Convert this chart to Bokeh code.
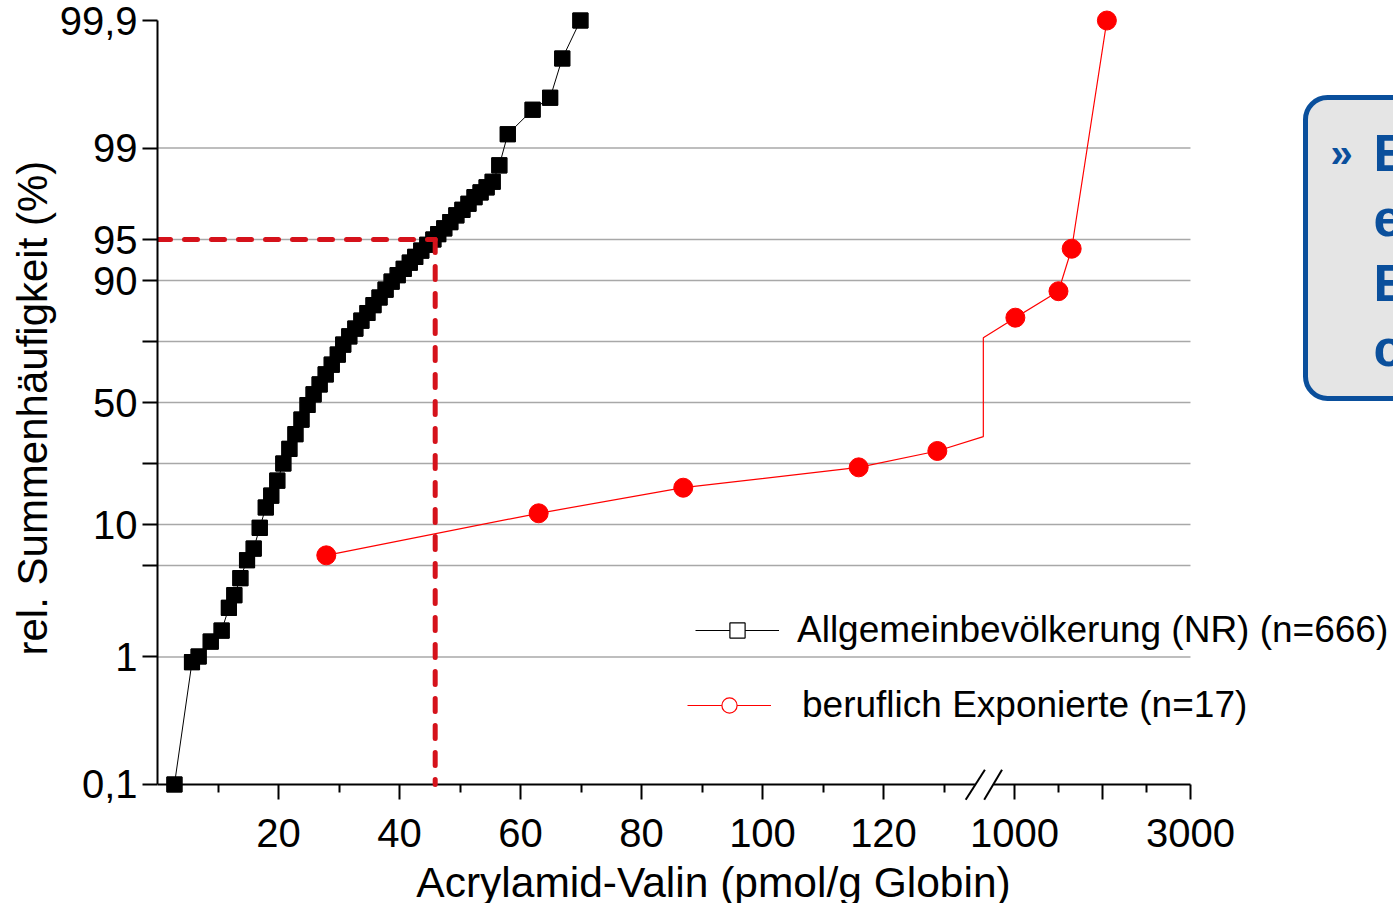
import numpy as np
from statistics import NormalDist
from bokeh.plotting import figure
from bokeh.models import (Range1d, FixedTicker, LinearAxis, Legend, LegendItem,
                          Label, BoxAnnotation, Title)
from bokeh.core.properties import value
from bokeh.embed import file_html
from bokeh.resources import INLINE

# ---------------- data ----------------
# Allgemeinbevölkerung (NR), n=666: Acrylamid-Valin (pmol/g Globin) -> rel. Summenhäufigkeit (%)
NR_X = [2.8, 5.7, 6.8, 8.8, 10.6, 11.8, 12.7, 13.7, 14.8, 15.9, 16.9, 17.9, 18.8, 19.8,
        20.8, 21.8, 22.8, 23.8, 24.8, 25.8, 26.8, 27.8, 28.8, 29.8, 30.7, 31.7, 32.7,
        33.7, 34.7, 35.7, 36.7, 37.7, 38.7,
        39.7, 40.7, 41.7, 42.6, 43.6, 44.6, 45.6, 46.4, 47.4, 48.4, 49.4, 50.4, 51.4,
        52.4, 53.4, 54.4, 55.4,
        56.5, 57.9, 62.0, 64.9, 66.9, 69.9]
NR_Y = [0.1, 0.92, 1.01, 1.35, 1.66, 2.5, 3.1, 4.1, 5.5, 6.75, 9.5, 13.3, 16.0, 19.9,
        25.0, 30.4, 36.3, 42.5, 48.9, 53.6, 57.9, 62.2, 66.2, 70.2, 73.9, 76.6, 78.9,
        81.1, 83.1, 85.0, 86.7, 88.3, 89.8,
        90.8, 91.7, 92.5, 93.2, 93.9, 94.5, 95.0, 95.4, 95.8, 96.2, 96.6, 96.9, 97.2,
        97.5, 97.7, 97.9, 98.1,
        98.6, 99.2, 99.47, 99.57, 99.79, 99.9]

# beruflich Exponierte, n=17
EXP_X_LOW = [27.9, 63.0, 86.9, 115.9, 128.9]      # left of the axis break
EXP_Y_LOW = [6.0, 12.1, 18.0, 23.8, 29.6]
EXP_X_HIGH = [1010, 1500, 1650, 2050]             # right of the axis break
EXP_Y_HIGH = [81.9, 88.0, 94.1, 99.9]
EXP_BREAK_Y = [35.3, 76.2]                        # connector drawn across the break

P95 = 45.9          # 95. Perzentil der Allgemeinbevölkerung

Y_TICKS = [0.1, 1, 5, 10, 25, 50, 75, 90, 95, 99, 99.9]
Y_LABELS = ["0,1", "1", "", "10", "", "50", "", "90", "95", "99", "99,9"]
Y_GRID = [1, 5, 10, 25, 50, 75, 90, 95, 99]

X_TICKS_LOW = [20, 40, 60, 80, 100, 120]
X_MINOR_LOW = [10, 30, 50, 70, 90, 110, 130]
X_TICKS_HIGH = [1000, 2000, 3000]
X_LABELS_HIGH = ["1000", "", "3000"]
X_MINOR_HIGH = [1500, 2500]

LEGEND_NR = "Allgemeinbevölkerung (NR) (n=666)"
LEGEND_EXP = "beruflich Exponierte (n=17)"
X_TITLE = "Acrylamid-Valin (pmol/g Globin)"
Y_TITLE = "rel. Summenhäufigkeit (%)"
NOTE_MARK = "»"
NOTE_LINES = ["E", "e", "E", "c"]

# ---------------- scales (warped probability axis, broken x axis) ----------------
FONT = "Liberation Sans"
BLUE = "#0a4f9c"
DASH_RED = "#d5121b"
_nd = NormalDist()
# positions of the probability ticks on the (hand-drawn) probability net
Y_TICK_POS = [-3.131, -2.086, -1.336, -1.0, -0.5, 0.0, 0.5, 1.0, 1.336, 2.086, 3.131]
_Z_TICKS = [_nd.inv_cdf(t / 100.0) for t in Y_TICKS]


def ypos(p):
    z = _nd.inv_cdf(p / 100.0)
    return float(np.interp(z, _Z_TICKS, Y_TICK_POS))


HIGH_START = 141.65       # axis position of 1000 after the break
HIGH_SPAN = 29.09         # axis length of 2000 pmol/g after the break
BREAK_POS = 136.5         # position of the axis break


def xpos(v):
    if v < 500:
        return float(v)
    return HIGH_START + (v - 1000) * HIGH_SPAN / 2000.0


def px_y(py):             # canvas pixel row -> y axis units (layout helper)
    return (402 - py) / 122.0


def px_x(px):             # canvas pixel column -> x axis units (layout helper)
    return (px - 157) / 6.05


p = figure(width=1393, height=903, output_backend="svg", toolbar_location=None,
           x_range=Range1d(0, px_x(1393)), y_range=Range1d(px_y(903), px_y(0)),
           min_border_left=157, min_border_right=0, min_border_top=0, min_border_bottom=0,
           x_axis_type=None, y_axis_type=None, outline_line_color=None,
           background_fill_color="white", border_fill_color="white")
p.xgrid.visible = False
p.ygrid.visible = False

# call-out box at the right edge (behind its text)
p.add_layout(BoxAnnotation(left=px_x(1305), right=px_x(1440),
                           top=px_y(97), bottom=px_y(398),
                           fill_color="#e5e5e5", fill_alpha=1, line_color=BLUE,
                           line_alpha=1, line_width=5, border_radius=22, level="underlay"))

# grid lines
gy = [ypos(t) for t in Y_GRID]
p.segment(x0=[0] * len(gy), x1=[xpos(3000)] * len(gy), y0=gy, y1=gy,
          line_color="#a8a8a8", line_width=1.4)

# y axis
ytick_pos = [ypos(t) for t in Y_TICKS]
yaxis = LinearAxis(ticker=FixedTicker(ticks=ytick_pos, minor_ticks=[]),
                   major_label_overrides={k: v for k, v in zip(ytick_pos, Y_LABELS)},
                   bounds=(ypos(0.1), ypos(99.9)),
                   major_label_text_font=FONT, major_label_text_font_size="40px",
                   major_label_text_color="black",
                   major_label_standoff=5, major_tick_out=15, major_tick_in=0,
                   minor_tick_out=0, minor_tick_in=0,
                   axis_line_width=2, major_tick_line_width=2)
p.add_layout(yaxis, "left")
p.add_layout(Title(text=Y_TITLE, align="left", offset=903 - 655, standoff=2,
                   text_font=FONT, text_font_size="42px", text_font_style="normal",
                   text_color="black"), "left")

# x axis (broken), drawn at the 0,1 % level
y0 = ypos(0.1)
xmaj = [xpos(v) for v in X_TICKS_LOW + X_TICKS_HIGH]
xmin = [xpos(v) for v in X_MINOR_LOW + X_MINOR_HIGH]
xlabels = [str(v) for v in X_TICKS_LOW] + X_LABELS_HIGH
xaxis = LinearAxis(ticker=FixedTicker(ticks=xmaj, minor_ticks=xmin),
                   major_label_overrides={k: v for k, v in zip(xmaj, xlabels)},
                   fixed_location=y0, axis_line_color=None,
                   major_label_text_font=FONT, major_label_text_font_size="40px",
                   major_label_text_color="black",
                   major_label_standoff=20, major_tick_out=15, major_tick_in=0,
                   minor_tick_out=8, minor_tick_in=0,
                   major_tick_line_width=2, minor_tick_line_width=2)
p.add_layout(xaxis, "below")

p.segment(x0=[0, px_x(993)], x1=[px_x(974.4), xpos(3000)], y0=[y0, y0], y1=[y0, y0],
          line_color="black", line_width=2)
p.segment(x0=[px_x(965.2), px_x(983.7)], x1=[px_x(984.4), px_x(1001.5)],
          y0=[px_y(799.3)] * 2, y1=[px_y(769.3)] * 2,
          line_color="black", line_width=2)

p.add_layout(Label(x=px_x(713), y=px_y(858), text=X_TITLE,
                   text_align="center", text_baseline="top",
                   text_font=FONT, text_font_size="42.5px", text_color="black"))

# Allgemeinbevölkerung
nx = [xpos(v) for v in NR_X]
ny = [ypos(v) for v in NR_Y]
nr_line = p.line(nx, ny, line_color="black", line_width=1)
nr_key = p.scatter(nx, ny, marker="square", size=15, fill_color="white",
                   line_color="black", line_width=1.2)
p.scatter(nx, ny, marker="square", size=15, fill_color="black", line_color="black")

# beruflich Exponierte
ex = [xpos(v) for v in EXP_X_LOW] + [BREAK_POS, BREAK_POS] + [xpos(v) for v in EXP_X_HIGH]
ey = [ypos(v) for v in EXP_Y_LOW + EXP_BREAK_Y + EXP_Y_HIGH]
exp_line = p.line(ex, ey, line_color="#ff0000", line_width=1.2)
mx = [xpos(v) for v in EXP_X_LOW + EXP_X_HIGH]
my = [ypos(v) for v in EXP_Y_LOW + EXP_Y_HIGH]
exp_key = p.scatter(mx, my, marker="circle", size=14, fill_color="white",
                    line_color="#ff0000", line_width=1.2)
p.scatter(mx, my, marker="circle", size=19, fill_color="#ff0000", line_color="#ff0000")

# 95th percentile guide lines
y95 = ypos(95)
p.line([0, P95], [y95, y95], line_color=DASH_RED, line_width=5, line_dash="13 14",
       line_cap="round")
p.line([P95, P95], [y95, y0], line_color=DASH_RED, line_width=5, line_dash="13 14",
       line_cap="round")

# legend (two entries, slightly offset as on the slide)
legend_style = dict(orientation="vertical", glyph_width=84, glyph_height=38,
                    label_height=38, padding=0, margin=0, border_line_color=None,
                    background_fill_alpha=0, label_text_color="black",
                    label_text_font=FONT, label_text_font_size="37px")
p.add_layout(Legend(items=[LegendItem(label=LEGEND_NR, renderers=[nr_line, nr_key])],
                    location=(538, 252), label_standoff=18, **legend_style))
p.add_layout(Legend(items=[LegendItem(label=LEGEND_EXP, renderers=[exp_line, exp_key])],
                    location=(530, 177), label_standoff=31, **legend_style))

# call-out text (cut by the right edge, as in the source slide)
p.text(x=[px_x(1330)], y=[px_y(152)], text=[NOTE_MARK], text_font=value(FONT),
       text_font_size="40px", text_font_style="bold", text_color=BLUE,
       text_align="left", text_baseline="middle")
p.text(x=[px_x(1373)] * 4, y=[px_y(yy) for yy in (152, 217, 282, 347)], text=NOTE_LINES,
       text_font=value(FONT), text_font_size="52px", text_font_style="bold",
       text_color=BLUE, text_align="left", text_baseline="middle")

open("out.html", "w").write(file_html(p, INLINE))
